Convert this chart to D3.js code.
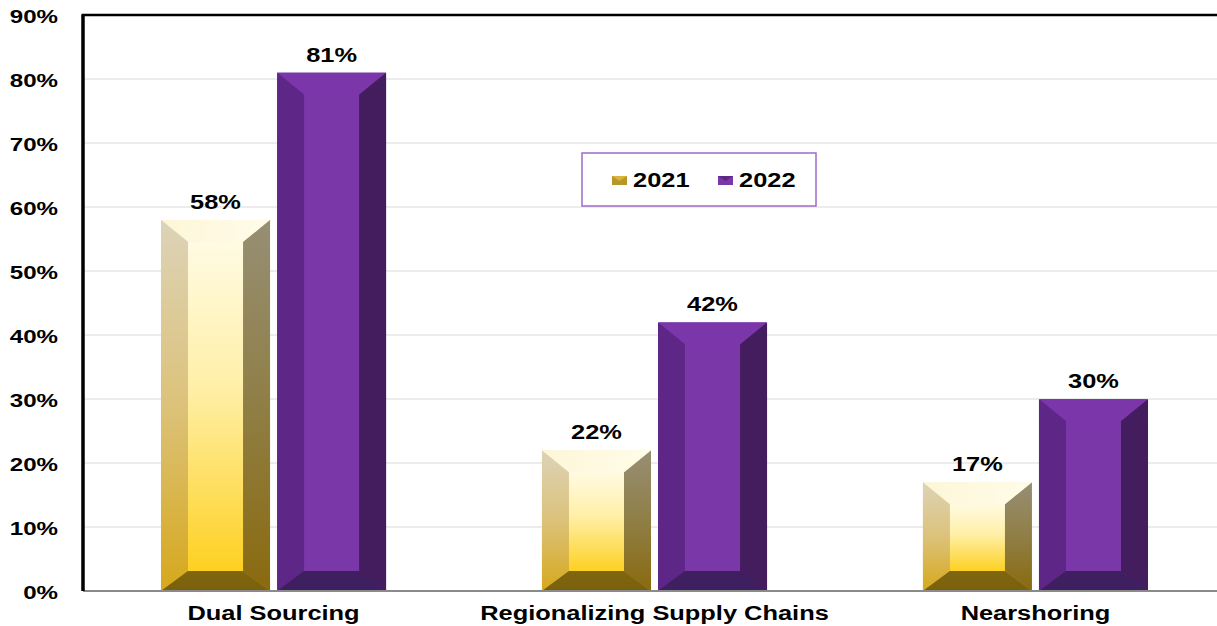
<!DOCTYPE html>
<html>
<head>
<meta charset="utf-8">
<script src="https://cdn.jsdelivr.net/npm/d3@7"></script>
<style>
  html, body { margin: 0; padding: 0; background: #ffffff; }
  svg { display: block; }
  text { font-family: "Liberation Sans", Arial, sans-serif; font-weight: bold; fill: #000; }
</style>
</head>
<body>
<svg id="chart" width="1217" height="626"></svg>
<script>
// Supply-chain strategies adopted, share of respondents
const categories = ["Dual Sourcing", "Regionalizing Supply Chains", "Nearshoring"];
const seriesNames = ["2021", "2022"];
const values2021 = [0.58, 0.22, 0.17];
const values2022 = [0.81, 0.42, 0.30];
const yTicks = [0, 0.1, 0.2, 0.3, 0.4, 0.5, 0.6, 0.7, 0.8, 0.9];

const W = 1217, H = 626;
const plot = { left: 83, right: 1226, top: 15, bottom: 591 };
const stretch = 1.27;          // wide bold lettering
const bevel = { side: 27, top: 22, bottom: 20 };

const svg = d3.select("#chart");
const defs = svg.append("defs");

// gradient helper (vertical unless specified)
function grad(id, stops, x2 = 0, y2 = 1) {
  const g = defs.append("linearGradient").attr("id", id)
    .attr("x1", 0).attr("y1", 0).attr("x2", x2).attr("y2", y2);
  stops.forEach(([o, c]) => g.append("stop").attr("offset", o).attr("stop-color", c));
}
// gold faces
grad("gFront", [[0, "#fffbe3"], [0.45, "#ffefa6"], [1, "#fdd021"]]);
grad("gLeft", [[0, "#dcd3b8"], [0.5, "#dcc27a"], [1, "#d6a81c"]]);
grad("gRight", [[0, "#978f75"], [0.5, "#8f7e45"], [1, "#8a6a0e"]]);
grad("gTop", [[0, "#fdf6d8"], [1, "#fffce8"]], 1, 0);
grad("gBottom", [[0, "#80660e"], [1, "#7a600c"]]);
grad("gBase", [[0, "#e8dcb0"], [1, "#c89a18"]]);

const faceFill = {
  "2021": { base: "url(#gBase)", front: "url(#gFront)", left: "url(#gLeft)", right: "url(#gRight)", top: "url(#gTop)", bottom: "url(#gBottom)" },
  "2022": { base: "#5a2680", front: "#7a37a8", left: "#5e2787", right: "#441d5f", top: "#7b37aa", bottom: "#3e2060" }
};

const x0 = d3.scaleBand().domain(categories).range([plot.left, plot.right])
  .paddingInner(0.409).paddingOuter(0.2047);
const x1 = d3.scaleBand().domain(seriesNames).range([0, x0.bandwidth()]).paddingInner(0.0603);
const y = d3.scaleLinear().domain([0, 0.9]).range([plot.bottom, plot.top]);

// gridlines
svg.append("g").selectAll("line").data(yTicks.slice(1)).join("line")
  .attr("x1", plot.left).attr("x2", W)
  .attr("y1", d => y(d)).attr("y2", d => y(d))
  .attr("stroke", "#d9d9d9").attr("stroke-width", 1);

// y axis labels
const yAxis = svg.append("g")
  .call(d3.axisLeft(y).tickValues(yTicks).tickFormat(d3.format(".0%")).tickSize(0).tickPadding(0));
yAxis.select(".domain").remove();
yAxis.attr("font-family", null).attr("font-size", null);
yAxis.selectAll(".tick text")
  .attr("x", null).attr("dy", null)
  .attr("text-anchor", "end")
  .style("font-size", "19px")
  .attr("transform", `translate(58,7) scale(${stretch},1)`);

// bars: five bevelled faces per bar over a base that hides seams
const rows = categories.map((c, i) => ({ cat: c, vals: [
  { s: "2021", v: values2021[i] }, { s: "2022", v: values2022[i] } ] }));

const groups = svg.append("g").selectAll("g").data(rows).join("g")
  .attr("transform", d => `translate(${x0(d.cat)},0)`);

groups.each(function (row) {
  const g = d3.select(this);
  row.vals.forEach(({ s, v }) => {
    const xl = x1(s), xr = xl + x1.bandwidth();
    const yt = y(v), yb = y(0);
    const il = xl + bevel.side, ir = xr - bevel.side;
    const it = yt + bevel.top, ib = yb - bevel.bottom;
    const f = faceFill[s];
    const poly = (pts, fill) => g.append("polygon")
      .attr("points", pts.map(p => p.join(",")).join(" ")).attr("fill", fill);
    g.append("rect").attr("x", xl + 0.5).attr("y", yt + 0.5)
      .attr("width", xr - xl - 1).attr("height", yb - yt - 1).attr("fill", f.base);
    poly([[il - 0.5, it - 0.5], [ir + 0.5, it - 0.5], [ir + 0.5, ib + 0.5], [il - 0.5, ib + 0.5]], f.front);
    poly([[xl, yt], [il, it], [il, ib], [xl, yb]], f.left);
    poly([[xr, yt], [ir, it], [ir, ib], [xr, yb]], f.right);
    poly([[xl, yt], [xr, yt], [ir, it], [il, it]], f.top);
    poly([[xl, yb], [il, ib], [ir, ib], [xr, yb]], f.bottom);
    g.append("text")
      .attr("text-anchor", "middle").style("font-size", "20px")
      .attr("transform", `translate(${(xl + xr) / 2},${yt - 11}) scale(${stretch},1)`)
      .text(d3.format(".0%")(v));
  });
});

// axis frame
svg.append("line").attr("x1", plot.left).attr("x2", W)
  .attr("y1", plot.bottom).attr("y2", plot.bottom)
  .attr("stroke", "#8a8a8a").attr("stroke-width", 2);
svg.append("line").attr("x1", plot.left - 1.5).attr("x2", W)
  .attr("y1", plot.top).attr("y2", plot.top)
  .attr("stroke", "#000").attr("stroke-width", 2.5);
svg.append("line").attr("x1", plot.left).attr("x2", plot.left)
  .attr("y1", plot.top).attr("y2", plot.bottom)
  .attr("stroke", "#000").attr("stroke-width", 3.5);

// category labels
svg.append("g").selectAll("text").data(categories).join("text")
  .attr("text-anchor", "middle").style("font-size", "20px")
  .attr("transform", d => `translate(${x0(d) + x0.bandwidth() / 2},620) scale(${stretch},1)`)
  .text(d => d);

// legend
const lg = svg.append("g");
lg.append("rect").attr("x", 582).attr("y", 153).attr("width", 234).attr("height", 53)
  .attr("fill", "#fff").attr("stroke", "#9a6cc8").attr("stroke-width", 1.5);
const legendX = { "2021": 612, "2022": 718 };
seriesNames.forEach(s => {
  const lx = legendX[s], ly = 176, sw = 15, sh = 9;
  const item = lg.append("g");
  item.append("rect").attr("x", lx).attr("y", ly).attr("width", sw).attr("height", sh)
    .attr("fill", s === "2021" ? "#d9b33a" : "#5e2787");
  item.append("polygon")
    .attr("points", [[lx, ly], [lx + sw / 2, ly + sh * 0.55], [lx + sw, ly], [lx + sw, ly + sh], [lx, ly + sh]].map(p => p.join(",")).join(" "))
    .attr("fill", s === "2021" ? "#b8972a" : "#7a37a8");
  item.append("text").style("font-size", "20px")
    .attr("transform", `translate(${lx + 21},187) scale(${stretch},1)`)
    .text(s);
});
</script>
</body>
</html>
